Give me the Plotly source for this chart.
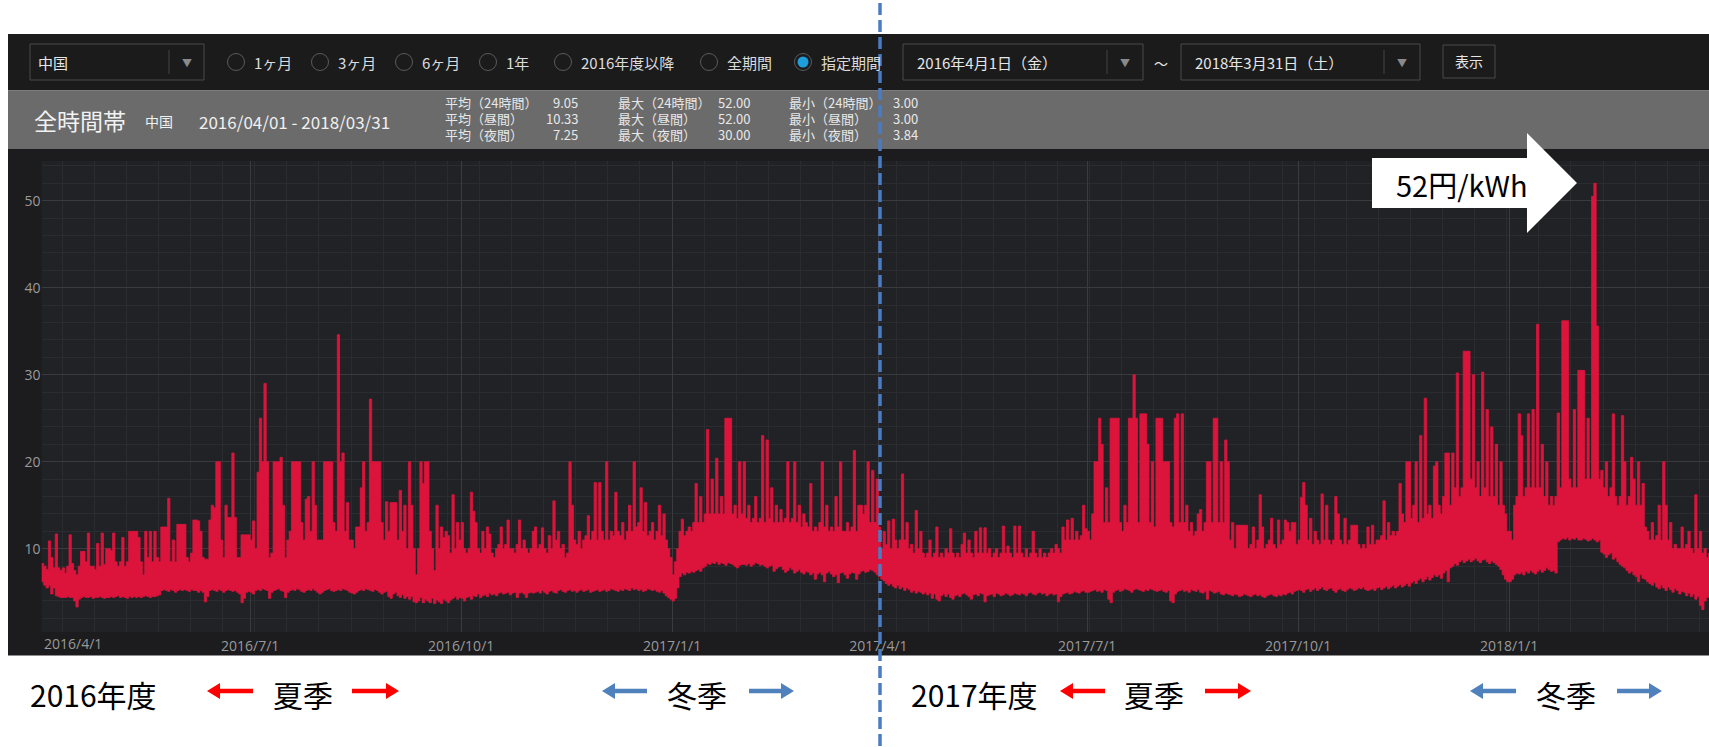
import pandas as pd
import plotly.graph_objects as go

W, H = 1709, 747
RED = "#dc143c"
CJK = "Noto Sans CJK JP"

# daily high of the 30-min spot price (円/kWh), 中国 area, 2016/4/1 - 2018/3/31
high = [
    8.3, 8.0, 7.6, 10.9, 9.0, 7.8, 11.7, 7.8, 7.5, 7.8, 7.2, 8.0, 11.6, 8.3, 7.5, 7.0, 8.0, 9.7, 9.7, 8.5, 11.8, 8.0, 8.0, 7.6, 10.6, 8.0, 11.8, 8.2, 10.0, 10.0,  # 2016-04
    9.8, 11.8, 8.5, 8.0, 8.5, 11.3, 8.0, 8.5, 12.0, 12.0, 12.0, 12.0, 11.3, 8.5, 7.0, 12.0, 9.0, 12.0, 8.5, 12.0, 9.0, 8.5, 12.5, 12.5, 12.5, 15.8, 8.5, 11.0, 8.5, 12.8, 12.8,  # 2016-05
    12.8, 12.8, 9.0, 8.5, 9.5, 13.3, 13.3, 13.2, 12.0, 9.0, 8.8, 8.8, 13.3, 15.0, 14.7, 20.0, 20.0, 11.0, 9.0, 15.0, 13.6, 13.6, 21.0, 13.6, 9.0, 9.0, 11.6, 11.6, 11.6, 11.6,  # 2016-06
    11.0, 13.2, 10.0, 18.8, 25.0, 20.0, 29.0, 20.0, 9.0, 9.5, 20.0, 20.0, 20.0, 20.5, 15.0, 9.0, 11.0, 12.0, 20.0, 20.0, 20.0, 20.0, 13.0, 11.0, 15.7, 16.0, 12.0, 20.0, 15.0, 11.0, 11.0,  # 2016-07
    11.0, 20.0, 20.0, 20.0, 20.0, 13.0, 12.0, 34.6, 20.0, 21.0, 12.0, 15.3, 11.0, 11.0, 10.0, 12.5, 12.5, 17.0, 20.0, 12.0, 13.0, 27.2, 20.0, 20.0, 20.0, 20.0, 13.0, 11.0, 15.4, 12.0, 15.3,  # 2016-08
    15.3, 15.3, 11.0, 16.7, 12.0, 15.0, 10.0, 20.0, 15.0, 10.0, 7.0, 10.0, 20.0, 17.5, 20.0, 20.0, 12.0, 10.0, 7.5, 15.0, 10.0, 12.5, 11.3, 12.0, 11.5, 9.5, 16.2, 10.0, 13.0, 11.0,  # 2016-09
    13.0, 10.0, 9.5, 10.0, 16.5, 14.3, 13.0, 10.0, 9.5, 12.0, 10.0, 12.5, 11.7, 9.5, 9.0, 10.0, 10.5, 12.5, 10.0, 10.5, 13.3, 10.0, 10.0, 9.5, 10.5, 13.3, 10.0, 11.0, 10.0, 9.5, 10.0,  # 2016-10
    12.0, 12.5, 10.0, 10.5, 12.4, 10.0, 9.5, 11.5, 10.0, 15.5, 11.0, 12.0, 10.0, 10.5, 9.0, 9.5, 20.0, 15.0, 11.0, 10.5, 12.0, 10.0, 11.0, 11.5, 13.8, 11.0, 12.0, 17.6, 11.0, 17.6,  # 2016-11
    12.0, 11.0, 20.0, 11.0, 12.0, 11.5, 16.5, 12.0, 11.5, 13.0, 11.0, 12.0, 15.0, 12.0, 20.0, 12.5, 13.0, 17.0, 12.0, 15.3, 11.5, 12.0, 13.0, 11.0, 12.0, 15.0, 11.5, 14.0, 11.0, 10.0, 9.0,  # 2016-12
    7.0, 8.5, 10.0, 12.0, 13.4, 11.5, 12.0, 12.5, 12.0, 13.0, 17.5, 13.0, 16.0, 13.0, 14.0, 23.7, 14.0, 18.0, 14.0, 20.4, 14.0, 16.0, 14.0, 25.0, 25.0, 25.0, 14.0, 15.0, 13.5, 20.0, 14.0,  # 2017-01
    20.0, 13.5, 15.0, 13.0, 13.5, 16.0, 13.0, 13.5, 23.0, 13.0, 22.5, 13.5, 17.0, 13.0, 15.0, 13.0, 14.5, 13.0, 13.5, 20.0, 13.0, 13.5, 20.0, 13.0, 15.0, 12.5, 14.0, 13.0,  # 2017-02
    12.5, 17.5, 12.0, 12.5, 12.0, 13.0, 20.0, 12.5, 15.0, 12.0, 12.5, 12.0, 16.0, 12.5, 20.0, 12.0, 12.0, 13.0, 12.0, 12.5, 21.3, 12.0, 15.0, 15.0, 14.0, 15.0, 20.0, 13.0, 19.0, 13.0, 18.0,  # 2017-03
    12.5, 10.0, 12.0, 10.5, 13.2, 10.0, 13.4, 11.0, 10.0, 11.0, 18.6, 11.0, 13.0, 10.0, 10.5, 9.5, 14.4, 10.0, 12.0, 9.5, 9.0, 9.5, 11.0, 9.0, 9.5, 12.5, 9.0, 9.5, 9.0, 10.0,  # 2017-04
    9.5, 12.3, 9.5, 9.0, 9.5, 9.0, 10.5, 11.8, 9.5, 11.0, 9.5, 9.0, 12.0, 9.5, 12.4, 9.5, 12.4, 9.5, 10.0, 9.0, 9.5, 10.0, 9.0, 9.5, 12.6, 9.5, 10.3, 9.5, 9.0, 12.6, 9.5,  # 2017-05
    12.6, 9.5, 9.0, 10.0, 9.0, 9.5, 12.0, 9.5, 9.0, 10.0, 9.0, 9.5, 9.0, 9.5, 10.0, 9.5, 10.5, 10.0, 9.5, 12.5, 11.0, 13.3, 11.0, 13.5, 11.0, 12.0, 11.0, 11.5, 15.0, 12.3,  # 2017-06
    12.0, 11.0, 14.0, 20.0, 20.0, 25.0, 22.0, 13.0, 17.0, 13.0, 25.0, 25.0, 25.0, 25.0, 13.0, 12.0, 15.0, 13.0, 25.0, 25.0, 30.0, 25.0, 13.0, 25.5, 25.5, 25.5, 22.0, 13.0, 20.0, 12.5, 25.0,  # 2017-07
    25.0, 25.0, 20.0, 20.0, 20.0, 13.0, 12.5, 25.0, 25.5, 13.0, 25.5, 13.0, 15.0, 12.0, 13.0, 11.5, 12.0, 14.0, 14.5, 12.0, 13.0, 20.0, 20.0, 13.0, 25.0, 25.0, 13.0, 20.0, 13.0, 22.5, 20.0,  # 2017-08
    11.0, 13.0, 10.0, 12.7, 12.7, 12.7, 12.7, 12.7, 10.0, 10.5, 12.5, 10.0, 11.0, 16.2, 12.5, 10.0, 10.5, 11.0, 13.5, 10.5, 10.0, 13.3, 10.5, 11.0, 13.3, 13.0, 12.0, 13.0, 13.0, 10.5,  # 2017-09
    11.0, 15.9, 17.6, 15.0, 11.0, 13.5, 10.5, 12.0, 11.0, 10.5, 16.3, 11.0, 15.0, 11.0, 10.5, 11.0, 16.0, 14.0, 11.0, 10.5, 13.5, 10.5, 11.0, 12.7, 12.7, 12.7, 10.5, 10.0, 10.5, 10.0, 12.5,  # 2017-10
    10.5, 12.7, 10.5, 11.0, 11.0, 11.5, 15.5, 11.0, 13.0, 11.5, 12.0, 11.5, 12.0, 17.5, 14.0, 13.0, 20.0, 20.0, 13.5, 15.0, 20.0, 13.0, 23.0, 13.5, 27.3, 14.0, 15.0, 13.5, 19.5, 20.0,  # 2017-11
    15.0, 14.0, 16.0, 21.0, 21.0, 15.0, 21.0, 17.0, 30.2, 16.0, 17.0, 32.7, 32.7, 32.7, 18.0, 30.0, 17.0, 20.0, 16.0, 30.3, 17.0, 26.0, 16.0, 24.0, 16.0, 22.0, 15.0, 20.0, 15.0, 14.0, 12.0,  # 2017-12
    12.0, 11.0, 15.0, 16.0, 25.5, 23.0, 16.0, 17.0, 25.5, 17.0, 26.0, 17.0, 35.8, 17.0, 22.0, 16.0, 20.0, 15.0, 16.0, 15.0, 16.0, 25.6, 17.0, 36.2, 36.2, 36.2, 18.0, 17.0, 26.0, 17.0, 30.5,  # 2018-01
    30.5, 30.5, 18.0, 25.0, 18.0, 50.5, 52.0, 35.6, 18.0, 19.0, 17.0, 20.0, 16.0, 17.0, 25.5, 16.0, 15.0, 16.0, 25.3, 20.0, 15.0, 16.0, 20.5, 18.0, 15.0, 20.0, 15.0, 17.5,  # 2018-02
    12.5, 12.0, 11.0, 13.0, 11.0, 11.5, 15.0, 11.0, 20.0, 15.0, 11.0, 13.0, 10.0, 10.5, 10.0, 10.0, 12.5, 10.0, 10.5, 12.0, 10.0, 9.5, 16.2, 10.0, 12.0, 9.5, 10.0, 9.0, 9.5, 8.5, 8.0,  # 2018-03
]

# daily low
low = [
    6.2, 5.8, 5.5, 5.8, 4.8, 5.5, 4.6, 4.5, 4.4, 4.4, 4.4, 4.5, 4.4, 4.4, 4.0, 3.3, 4.2, 4.4, 4.5, 4.4, 4.4, 4.5, 4.3, 4.4, 4.4, 4.5, 4.4, 4.3, 4.4, 4.4,  # 2016-04
    4.5, 4.4, 4.5, 4.6, 4.4, 4.5, 4.4, 4.3, 4.5, 4.4, 4.5, 4.4, 4.5, 4.4, 4.5, 4.6, 4.5, 4.4, 4.5, 4.5, 4.6, 4.7, 5.2, 5.3, 5.2, 5.1, 5.3, 5.2, 5.0, 5.2, 5.3,  # 2016-05
    5.2, 5.3, 5.2, 5.1, 5.3, 5.2, 5.2, 5.0, 5.2, 5.0, 3.9, 4.5, 5.2, 5.3, 5.2, 5.1, 5.3, 5.2, 5.0, 5.2, 5.3, 5.2, 5.1, 5.2, 5.0, 4.8, 3.8, 4.3, 5.0, 5.1,  # 2016-06
    5.0, 4.8, 5.2, 5.3, 5.2, 5.4, 5.3, 5.2, 4.3, 5.0, 5.2, 5.3, 5.4, 5.2, 5.1, 4.4, 5.0, 5.2, 5.3, 5.2, 5.4, 5.3, 5.1, 5.0, 5.2, 5.3, 5.2, 5.4, 5.2, 5.0, 4.8,  # 2016-07
    5.0, 5.2, 5.3, 5.4, 5.2, 5.1, 5.2, 5.3, 5.2, 5.4, 5.3, 5.2, 5.0, 4.9, 4.8, 5.0, 5.2, 5.3, 5.2, 5.4, 5.3, 5.2, 5.1, 5.3, 5.2, 5.0, 4.8, 5.0, 5.1, 4.5, 4.3,  # 2016-08
    4.8, 5.0, 4.6, 4.4, 4.7, 4.3, 4.5, 4.2, 4.5, 3.9, 3.8, 4.0, 4.4, 3.8, 4.2, 4.0, 3.8, 4.3, 3.7, 4.1, 3.9, 3.7, 4.2, 4.0, 3.8, 4.1, 4.3, 4.5, 4.2, 4.4,  # 2016-09
    4.3, 4.0, 4.4, 4.5, 4.2, 4.6, 4.5, 4.8, 4.4, 4.6, 4.7, 4.5, 4.9, 4.7, 4.8, 4.6, 4.9, 5.0, 4.8, 4.9, 5.0, 4.7, 4.9, 5.0, 4.4, 4.9, 5.0, 4.8, 4.4, 4.9, 5.0,  # 2016-10
    4.9, 5.0, 5.1, 4.9, 5.2, 5.0, 4.8, 5.1, 5.2, 5.0, 4.9, 5.2, 5.3, 5.1, 5.0, 5.2, 5.3, 5.1, 5.2, 5.0, 5.2, 5.3, 5.1, 5.2, 5.3, 5.0, 5.1, 5.2, 5.3, 5.1,  # 2016-11
    5.2, 5.3, 5.1, 5.2, 5.4, 5.3, 5.2, 5.1, 5.3, 5.2, 5.4, 5.3, 5.2, 5.5, 5.3, 5.4, 5.2, 5.3, 5.1, 5.2, 5.4, 5.3, 5.2, 5.3, 5.1, 5.0, 5.2, 4.9, 4.6, 4.4, 4.2,  # 2016-12
    4.0, 4.3, 5.5, 6.8, 7.2, 7.0, 7.3, 7.2, 7.4, 7.3, 7.5, 7.6, 7.4, 7.8, 8.0, 8.3, 8.2, 8.4, 8.3, 8.5, 8.2, 8.4, 8.3, 8.1, 8.4, 8.3, 8.2, 8.0, 7.8, 8.1, 8.2,  # 2017-01
    8.2, 8.1, 8.3, 8.0, 8.2, 8.4, 8.3, 8.1, 8.2, 8.0, 7.8, 8.0, 8.1, 7.4, 7.7, 7.9, 8.0, 7.6, 7.3, 7.5, 7.8, 7.6, 7.2, 7.4, 7.6, 7.3, 7.1, 7.4,  # 2017-02
    7.3, 7.0, 7.2, 6.5, 7.1, 7.3, 7.0, 6.2, 7.2, 7.4, 7.1, 6.8, 7.0, 6.1, 7.2, 7.3, 7.0, 6.6, 7.1, 7.3, 7.2, 6.5, 7.1, 7.4, 7.5, 7.3, 7.4, 7.6, 7.5, 7.3, 7.0,  # 2017-03
    6.8, 6.5, 6.3, 6.0, 5.8, 6.0, 5.7, 5.5, 5.8, 5.4, 5.6, 5.2, 5.5, 5.3, 5.0, 5.2, 4.9, 5.1, 5.0, 4.8, 5.0, 4.7, 4.9, 4.3, 4.8, 4.2, 4.0, 4.6, 4.8, 4.5,  # 2017-04
    4.8, 4.4, 4.2, 4.6, 4.7, 4.5, 4.8, 4.9, 4.7, 4.5, 4.2, 4.7, 4.8, 4.6, 4.9, 4.8, 3.9, 4.6, 4.7, 4.8, 4.5, 4.9, 4.8, 4.6, 4.7, 4.9, 4.8, 4.6, 4.7, 4.9, 4.8,  # 2017-05
    4.7, 4.9, 4.8, 4.6, 4.9, 5.0, 4.8, 4.7, 4.9, 5.0, 4.8, 4.9, 4.6, 4.8, 4.9, 4.7, 4.8, 3.9, 4.5, 4.8, 4.9, 5.0, 4.8, 4.9, 5.1, 5.0, 4.9, 5.1, 5.2, 5.0,  # 2017-06
    5.0, 5.1, 5.2, 5.3, 5.1, 5.2, 5.0, 5.3, 5.2, 4.2, 3.8, 5.0, 5.2, 5.3, 5.1, 5.2, 5.4, 5.3, 5.2, 5.0, 5.3, 5.4, 5.3, 5.2, 5.1, 5.3, 5.2, 5.4, 5.3, 5.2, 5.1,  # 2017-07
    5.2, 5.3, 5.1, 5.0, 5.2, 4.0, 3.8, 4.8, 5.1, 5.2, 5.3, 5.1, 5.2, 5.0, 5.3, 5.2, 5.1, 5.3, 5.0, 4.9, 5.1, 4.2, 5.2, 5.1, 4.9, 5.0, 5.1, 4.8, 4.7, 4.9, 4.8,  # 2017-08
    4.7, 4.6, 4.8, 4.7, 4.5, 4.6, 4.8, 4.7, 4.6, 4.5, 4.7, 4.8, 4.6, 4.7, 4.5, 4.4, 4.6, 4.7, 4.8, 4.6, 4.5, 4.7, 4.6, 4.8, 4.7, 4.9, 5.0, 4.8, 5.1, 5.2,  # 2017-09
    5.3, 5.2, 5.0, 5.3, 5.4, 5.1, 5.3, 5.5, 5.2, 5.4, 5.6, 5.3, 5.2, 5.4, 5.5, 5.2, 5.0, 5.3, 5.4, 5.2, 5.1, 5.3, 5.5, 5.4, 5.2, 5.3, 5.5, 5.4, 5.6, 5.3, 5.2,  # 2017-10
    5.3, 5.4, 5.2, 5.5, 5.6, 5.3, 5.5, 5.7, 5.4, 5.6, 5.8, 5.5, 5.7, 5.9, 5.6, 5.8, 6.0, 5.7, 6.1, 6.3, 6.0, 6.4, 6.6, 6.2, 6.5, 6.8, 6.4, 6.7, 7.0, 6.8,  # 2017-11
    7.0, 6.6, 7.2, 7.5, 6.2, 7.8, 8.0, 8.3, 8.1, 8.5, 8.7, 8.4, 8.6, 8.8, 8.5, 8.7, 8.9, 8.6, 8.4, 8.7, 8.8, 8.5, 8.3, 8.6, 8.4, 8.2, 8.0, 7.6, 7.0, 6.5, 6.2,  # 2017-12
    6.2, 6.5, 7.0, 7.2, 7.1, 7.3, 7.0, 7.4, 7.2, 7.5, 7.3, 7.1, 7.4, 7.6, 7.3, 7.5, 7.8, 7.6, 7.4, 7.5, 7.2, 10.8, 11.0, 11.2, 11.1, 11.3, 11.0, 11.2, 11.1, 11.3, 11.0,  # 2018-01
    11.0, 11.2, 11.1, 10.9, 11.0, 11.2, 11.0, 10.8, 11.0, 9.6, 9.4, 9.0, 9.3, 9.5, 8.8, 9.0, 8.5, 8.2, 8.0, 7.8, 7.5, 7.2, 7.4, 7.0, 6.8, 6.2, 7.0, 6.6,  # 2018-02
    6.5, 6.2, 6.0, 5.8, 6.1, 5.6, 5.4, 5.8, 5.5, 5.2, 5.6, 5.3, 5.0, 5.4, 5.2, 4.8, 5.1, 5.0, 4.6, 4.9, 4.5, 4.8, 4.2, 4.5, 3.5, 3.0, 4.0, 4.4, 4.6, 4.8, 5.0,  # 2018-03
]

dates = pd.date_range("2016-04-01", "2018-03-31", freq="D")
assert len(high) == len(low) == len(dates), (len(high), len(low), len(dates))

tick_dates = ["2016-04-01", "2016-07-01", "2016-10-01", "2017-01-01",
              "2017-04-01", "2017-07-01", "2017-10-01", "2018-01-01"]
tick_text = ["", "2016/7/1", "2016/10/1", "2017/1/1",
             "2017/4/1", "2017/7/1", "2017/10/1", "2018/1/1"]
y_ticks = [10, 20, 30, 40, 50]

periods = ["1ヶ月", "3ヶ月", "6ヶ月", "1年", "2016年度以降", "全期間", "指定期間"]
stat_names = [["平均（24時間）", "平均（昼間）", "平均（夜間）"],
              ["最大（24時間）", "最大（昼間）", "最大（夜間）"],
              ["最小（24時間）", "最小（昼間）", "最小（夜間）"]]
stat_values = [["9.05", "10.33", "7.25"],
               ["52.00", "52.00", "30.00"],
               ["3.00", "3.00", "3.84"]]


def X(px):
    return px / W


def Y(py):
    return 1 - py / H


shapes = []
annotations = []


def rect(x0, y0, x1, y1, fill, line=None, layer="below"):
    shapes.append(dict(type="rect", xref="paper", yref="paper",
                       x0=X(x0), x1=X(x1), y0=Y(y1), y1=Y(y0),
                       fillcolor=fill, layer=layer,
                       line=dict(width=1 if line else 0, color=line or fill)))


def text(px, py, s, size, color="#e6e6e6", anchor="left", family=CJK, ref="paper"):
    annotations.append(dict(xref=ref, yref="paper", x=X(px) if ref == "paper" else px,
                            y=Y(py), text=s, showarrow=False, xanchor=anchor,
                            yanchor="middle", font=dict(size=size, color=color, family=family)))


def arrow(tip, tail, yc, color, head=13, hh=8, ht=2.2):
    d = 1 if tail > tip else -1
    hx = tip + d * head
    pts = [(tip, yc), (hx, yc - hh), (hx, yc - ht), (tail, yc - ht),
           (tail, yc + ht), (hx, yc + ht), (hx, yc + hh)]
    path = "M " + " L ".join(f"{X(a):.5f},{Y(b):.5f}" for a, b in pts) + " Z"
    shapes.append(dict(type="path", xref="paper", yref="paper", path=path,
                       fillcolor=color, line=dict(width=0), layer="above"))


# --- dashboard chrome ---------------------------------------------------
rect(8, 34, W, 90.5, "#1b1b1c")
rect(8, 90.5, W, 148.5, "#6b6b6b")
rect(8, 148.5, W, 655.5, "#1c1c1e")
rect(41.5, 161, W, 632, "#212225")

# area dropdown
rect(30, 44, 204, 80, "#1b1b1c", line="#4a4a4a")
shapes.append(dict(type="line", xref="paper", yref="paper", x0=X(169), x1=X(169),
                   y0=Y(50), y1=Y(74), line=dict(color="#454545", width=1)))
text(36, 62, "中国", 15)
text(187, 62, "▼", 10, color="#8a8a8a", anchor="center")

# period radio buttons
radio_x = [236, 320, 404, 488, 563, 709, 803]
for i, (cx, lab) in enumerate(zip(radio_x, periods)):
    r = 8.5
    shapes.append(dict(type="circle", xref="paper", yref="paper",
                       x0=X(cx - r), x1=X(cx + r), y0=Y(62 + r), y1=Y(62 - r),
                       fillcolor="#1b1b1c", line=dict(color="#5a5a5a", width=1)))
    if i == len(periods) - 1:
        r2 = 5.5
        shapes.append(dict(type="circle", xref="paper", yref="paper",
                           x0=X(cx - r2), x1=X(cx + r2), y0=Y(62 + r2), y1=Y(62 - r2),
                           fillcolor="#1e9fdc", line=dict(width=0)))
    text(cx + 16, 62, lab, 15, color="#dcdcdc")

# date range dropdowns
for x0, x1, sep, s in [(903, 1143, 1107, "2016年4月1日（金）"), (1181, 1420, 1384, "2018年3月31日（土）")]:
    rect(x0, 44, x1, 80, "#1b1b1c", line="#4a4a4a")
    shapes.append(dict(type="line", xref="paper", yref="paper", x0=X(sep), x1=X(sep),
                       y0=Y(50), y1=Y(74), line=dict(color="#454545", width=1)))
    text(x0 + 12, 62, s, 15)
    text(sep + 18, 62, "▼", 10, color="#8a8a8a", anchor="center")
text(1161, 63, "～", 14, anchor="center")
rect(1443, 45, 1495, 78, "#1b1b1c", line="#4a4a4a")
text(1469, 61, "表示", 14, anchor="center")

# grey header
text(32, 120, "全時間帯", 23, color="#f2f2f2")
text(143, 121, "中国", 14, color="#f0f0f0")
text(197, 121, "2016/04/01 - 2018/03/31", 17, color="#f0f0f0")
row_y = [103, 118.5, 134]
name_x = [443, 616, 787]
val_x = [(580, "right"), (752, "right"), (891, "left")]
for c in range(3):
    for r in range(3):
        text(name_x[c], row_y[r], stat_names[c][r], 13, color="#e8e8e8")
        text(val_x[c][0], row_y[r], stat_values[c][r], 13, color="#e8e8e8", anchor=val_x[c][1])

# first x label is left-aligned at the axis start
text("2016-04-01", 643, "2016/4/1", 14, color="#9a9a9a", family="Open Sans", ref="x")

# season notes below the chart
for s, px, anchor in [("2016年度", 28, "left"), ("夏季", 302.5, "center"), ("冬季", 697, "center"),
                      ("2017年度", 909, "left"), ("夏季", 1154, "center"), ("冬季", 1566, "center")]:
    text(px, 694, s, 30, color="#000000", anchor=anchor)
for tip, tail, col in [(207, 253, "#ff0000"), (399, 352, "#ff0000"),
                       (602, 647, "#4f81bd"), (794, 749, "#4f81bd"),
                       (1060, 1105, "#ff0000"), (1251, 1205, "#ff0000"),
                       (1470, 1516, "#4f81bd"), (1662, 1617, "#4f81bd")]:
    arrow(tip, tail, 691, col)

# fiscal-year divider
shapes.append(dict(type="line", xref="paper", yref="paper", x0=X(880), x1=X(880),
                   y0=Y(3), y1=0, layer="above",
                   line=dict(color="#4a7cc4", width=3.5, dash="12px,5px")))

# call-out arrow for the 52 円/kWh peak
callout = [(1372, 158), (1527, 158), (1527, 133), (1577, 183),
           (1527, 233), (1527, 208), (1372, 208)]
shapes.append(dict(type="path", xref="paper", yref="paper", layer="above",
                   path="M " + " L ".join(f"{X(a):.5f},{Y(b):.5f}" for a, b in callout) + " Z",
                   fillcolor="#ffffff", line=dict(width=0)))
text(1462, 184, "52円/kWh", 29, color="#000000", anchor="center")

# --- price series -------------------------------------------------------
fig = go.Figure()
fig.add_trace(go.Scatter(x=dates, y=low, mode="lines", hoverinfo="skip",
                         line=dict(color=RED, width=0.8, shape="hv")))
fig.add_trace(go.Scatter(x=dates, y=high, mode="lines", hoverinfo="skip",
                         line=dict(color=RED, width=0.8, shape="hv"),
                         fill="tonexty", fillcolor=RED))

fig.update_layout(
    width=W, height=H,
    margin=dict(l=0, r=0, t=0, b=0),
    paper_bgcolor="#ffffff",
    plot_bgcolor="rgba(0,0,0,0)",
    showlegend=False,
    shapes=shapes,
    annotations=annotations,
    xaxis=dict(
        domain=[X(41.5), 1],
        range=["2016-04-01", "2018-03-29 05:00"],
        tickmode="array", tickvals=tick_dates, ticktext=tick_text,
        showgrid=True, gridcolor="#3a3b3e", gridwidth=1,
        zeroline=False, showline=False, ticks="",
        ticklabelstandoff=4,
        tickfont=dict(size=14, color="#9a9a9a", family="Open Sans"),
        minor=dict(tick0="2016-04-10", dtick=14 * 86400000,
                   showgrid=True, gridcolor="#2b2c2f", gridwidth=1),
        fixedrange=True,
    ),
    yaxis=dict(
        domain=[Y(632), Y(161)],
        range=[0.43, 54.56],
        tickmode="array", tickvals=y_ticks,
        showgrid=True, gridcolor="#3a3b3e", gridwidth=1,
        zeroline=False, showline=False, ticks="",
        tickfont=dict(size=14, color="#9a9a9a", family="Open Sans"),
        minor=dict(tick0=0, dtick=2, showgrid=True, gridcolor="#2b2c2f", gridwidth=1),
        fixedrange=True,
    ),
)

fig.write_html("out.html", config={"displayModeBar": False},
               post_script="document.body.style.margin='0';document.body.style.overflow='hidden';")
